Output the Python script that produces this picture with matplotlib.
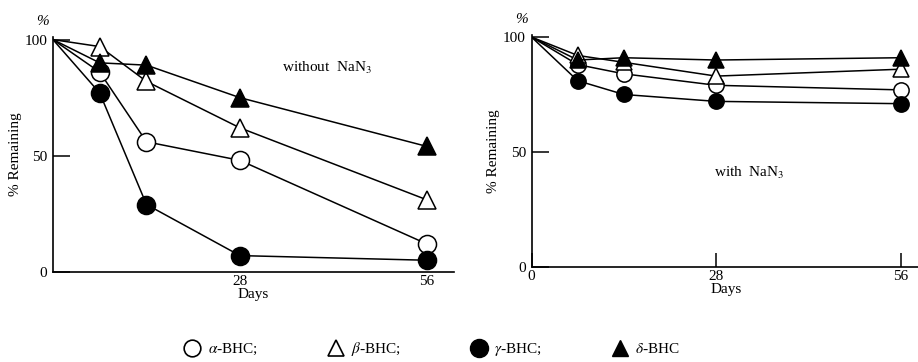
import matplotlib.pyplot as plt
from matplotlib.lines import Line2D

plt.rcParams['font.family'] = ['Liberation Serif', 'DejaVu Serif']
plt.rcParams['mathtext.fontset'] = 'stix'

days = [0, 7, 14, 28, 56]

# without NaN3
alpha_wo = [100, 86, 56, 48, 12]
beta_wo = [100, 97, 82, 62, 31]
gamma_wo = [100, 77, 29, 7, 5]
delta_wo = [100, 90, 89, 75, 54]

# with NaN3
alpha_w = [100, 88, 84, 79, 77]
beta_w = [100, 92, 89, 83, 86]
gamma_w = [100, 81, 75, 72, 71]
delta_w = [100, 90, 91, 90, 91]

labels = [r"$\alpha$-BHC;", r"$\beta$-BHC;", r"$\gamma$-BHC;", r"$\delta$-BHC"]

fig = plt.figure(figsize=(9.18, 3.62), dpi=100)
ax1 = fig.add_axes([0.0577, 0.249, 0.4365, 0.648])
ax2 = fig.add_axes([0.579, 0.263, 0.4237, 0.641])


def draw(ax, series, ms, xmax, label, lx, ly):
    styles = [("o", "white"), ("^", "white"), ("o", "black"), ("^", "black")]
    for vals, (m, fc) in zip(series, styles):
        ax.plot(days[1:], vals[1:], color="black", lw=1.1, marker=m, ms=ms,
                mfc=fc, mec="black", mew=1.1, zorder=3)
        ax.plot(days[:2], vals[:2], color="black", lw=1.1, zorder=2)
    ax.set_xlim(0, xmax)
    ax.set_ylim(0, 101)
    for s in ["top", "right"]:
        ax.spines[s].set_visible(False)
    ax.spines["left"].set_linewidth(1.2)
    ax.spines["bottom"].set_linewidth(1.2)
    ax.set_yticks([0, 50, 100])
    ax.set_yticklabels(["0", "50", "100"], fontsize=11)
    ax.tick_params(axis="y", direction="in", length=12, width=1.1, pad=4)
    ax.set_ylabel("% Remaining", fontsize=11, labelpad=2)
    ax.set_xlabel("Days", fontsize=11, labelpad=0)
    ax.text(-1.5, 105, "%", fontsize=11, ha="center", va="bottom",
            style="italic", clip_on=False)
    ax.text(lx, ly, label, fontsize=11, ha="center", va="center")


draw(ax1, [alpha_wo, beta_wo, gamma_wo, delta_wo], 13, 60,
     r"without  NaN$_3$", 41, 88)
ax1.set_xticks([28, 56])
ax1.set_xticklabels(["28", "56"], fontsize=11)
ax1.tick_params(axis="x", length=0, pad=2)

draw(ax2, [alpha_w, beta_w, gamma_w, delta_w], 11, 59,
     r"with  NaN$_3$", 33, 41)
ax2.set_xticks([0, 28, 56])
ax2.set_xticklabels(["0", "28", "56"], fontsize=11)
ax2.tick_params(axis="x", direction="in", length=10, width=1.1, pad=2)

handles = [
    Line2D([], [], ls="none", marker="o", ms=12, mfc="white", mec="black", mew=1.2),
    Line2D([], [], ls="none", marker="^", ms=11, mfc="white", mec="black", mew=1.2),
    Line2D([], [], ls="none", marker="o", ms=13, mfc="black", mec="black"),
    Line2D([], [], ls="none", marker="^", ms=11, mfc="black", mec="black"),
]
fig.legend(handles, labels, loc="center", bbox_to_anchor=(0.47, 0.035),
           ncol=4, frameon=False, fontsize=11, columnspacing=4.5,
           handletextpad=0.4, handlelength=1.2)

fig.savefig("out.png", dpi=100)
